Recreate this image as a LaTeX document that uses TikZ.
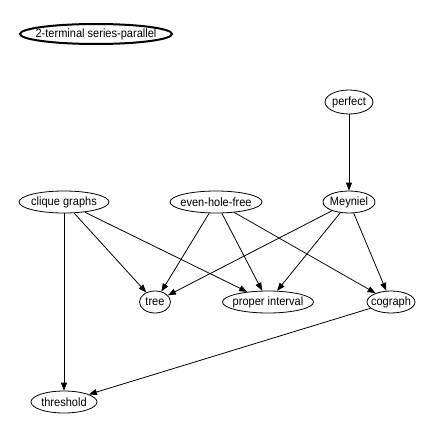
\documentclass[tikz,border=0pt]{standalone}
\usepackage{fontspec}
\setmainfont{Liberation Sans}[FakeStretch=0.92]
\usetikzlibrary{shapes.geometric,arrows.meta}
\begin{document}
\begin{tikzpicture}[x=1pt,y=-1pt,
  gnode/.style={ellipse,draw,line width=0.8pt,inner sep=0pt,label={[font=\fontsize{12}{14}\selectfont,inner sep=0pt]center:#1}},
  edge/.style={line width=0.8pt,-{Triangle[length=8pt,width=6pt]}}]
\useasboundingbox (0,0) rectangle (444,436);
\node[gnode={2-terminal series-parallel},line width=2pt,minimum width=152pt,minimum height=20pt] (sp) at (96,34) {};
\node[gnode=perfect,minimum width=48pt,minimum height=24pt] (perfect) at (349,102) {};
\node[gnode={clique graphs},minimum width=90pt,minimum height=22pt] (clique) at (64,202) {};
\node[gnode={even-hole-free},minimum width=92pt,minimum height=22pt] (ehf) at (216,202) {};
\node[gnode=Meyniel,minimum width=52pt,minimum height=22pt] (meyniel) at (349,202) {};
\node[gnode=tree,minimum width=31pt,minimum height=22pt] (tree) at (155,302) {};
\node[gnode={proper interval},minimum width=91pt,minimum height=22pt] (pi) at (268,302) {};
\node[gnode=cograph,minimum width=48pt,minimum height=22pt] (cograph) at (391,302) {};
\node[gnode=threshold,minimum width=66pt,minimum height=22pt] (threshold) at (64,402) {};
\draw[edge] (perfect) -- (meyniel);
\draw[edge] (clique) -- (tree);
\draw[edge] (clique) -- (pi);
\draw[edge] (clique) -- (threshold);
\draw[edge] (ehf) -- (tree);
\draw[edge] (ehf) -- (pi);
\draw[edge] (ehf) -- (cograph);
\draw[edge] (meyniel) -- (tree);
\draw[edge] (meyniel) -- (pi);
\draw[edge] (meyniel) -- (cograph);
\draw[edge] (cograph) -- (threshold);
\end{tikzpicture}
\end{document}
